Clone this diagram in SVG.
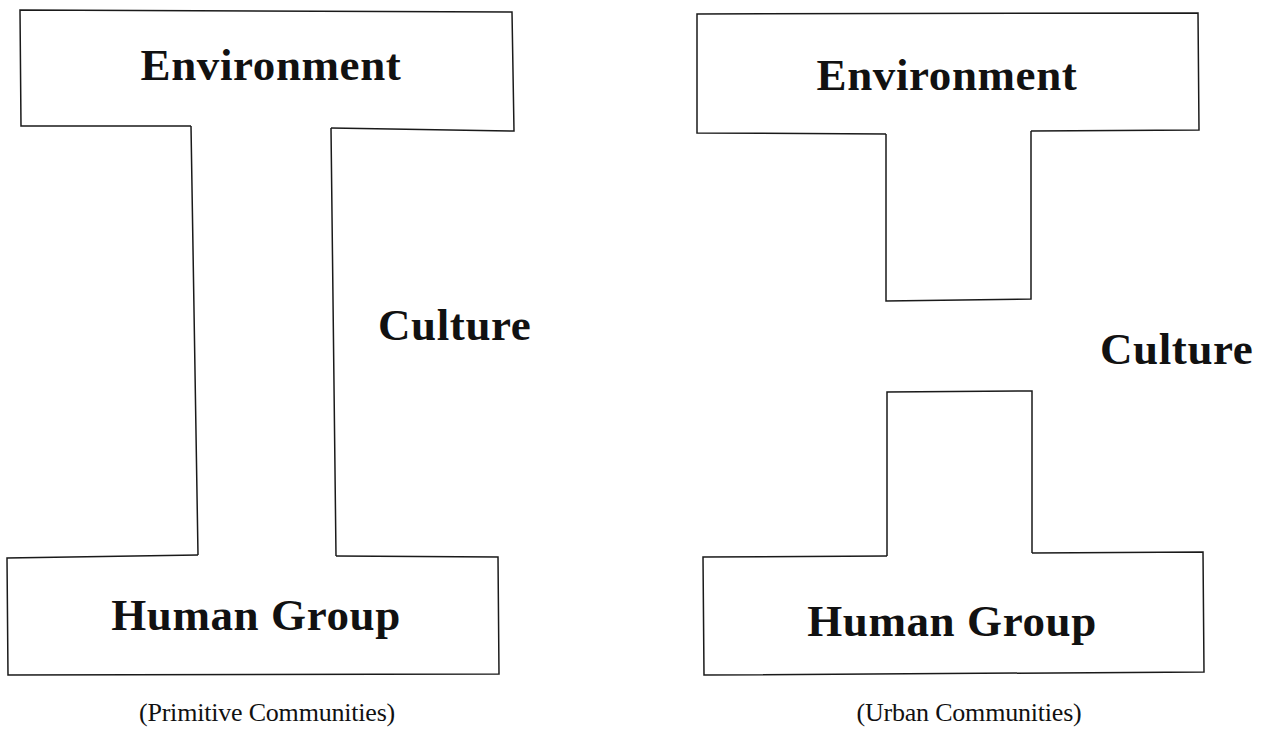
<svg xmlns="http://www.w3.org/2000/svg" width="1272" height="751" viewBox="0 0 1272 751">
<style>
.shape{fill:none;stroke:#1a1a1a;stroke-width:1.5;stroke-linejoin:miter}
.lbl{font-family:"Liberation Serif","Times New Roman",serif;font-weight:bold;font-size:45px;fill:#111;letter-spacing:0.6px}
.cap{font-family:"Liberation Serif","Times New Roman",serif;font-size:26px;fill:#111;text-anchor:middle;letter-spacing:-0.2px}
</style>
<rect width="1272" height="751" fill="#fff"/>
<g id="primitive">
<g id="p-environment">
<path class="shape" d="M191,126 L21,126 L20,10 L512,12 L514,131 L331,128"/>
<text class="lbl" x="271" y="80" text-anchor="middle">Environment</text>
</g>
<g id="p-culture">
<path class="shape" d="M191,126 L198,555 M331,128 L336,556"/>
<text class="lbl" x="378" y="340">Culture</text>
</g>
<g id="p-human">
<path class="shape" d="M198,555 L7,558 L8,675 L499,674 L498,557 L336,556"/>
<text class="lbl" x="256" y="630" text-anchor="middle">Human Group</text>
</g>
<text class="cap" x="267" y="721">(Primitive Communities)</text>
</g>
<g id="urban">
<g id="u-environment">
<path class="shape" d="M886,134 L697,133 L697,14 L1198,13 L1199,130 L1031,131"/>
<path class="shape" d="M886,134 L886,301 L1031,299 L1031,131"/>
<text class="lbl" x="947" y="90" text-anchor="middle">Environment</text>
</g>
<g id="u-culture">
<text class="lbl" x="1100" y="364">Culture</text>
</g>
<g id="u-human">
<path class="shape" d="M887,556 L887,392 L1032,391 L1032,553"/>
<path class="shape" d="M887,556 L703,557 L704,675 L1204,672 L1203,552 L1032,553"/>
<text class="lbl" x="952" y="636" text-anchor="middle">Human Group</text>
</g>
<text class="cap" x="969" y="721">(Urban Communities)</text>
</g>
<g id="connectors"></g>
</svg>
